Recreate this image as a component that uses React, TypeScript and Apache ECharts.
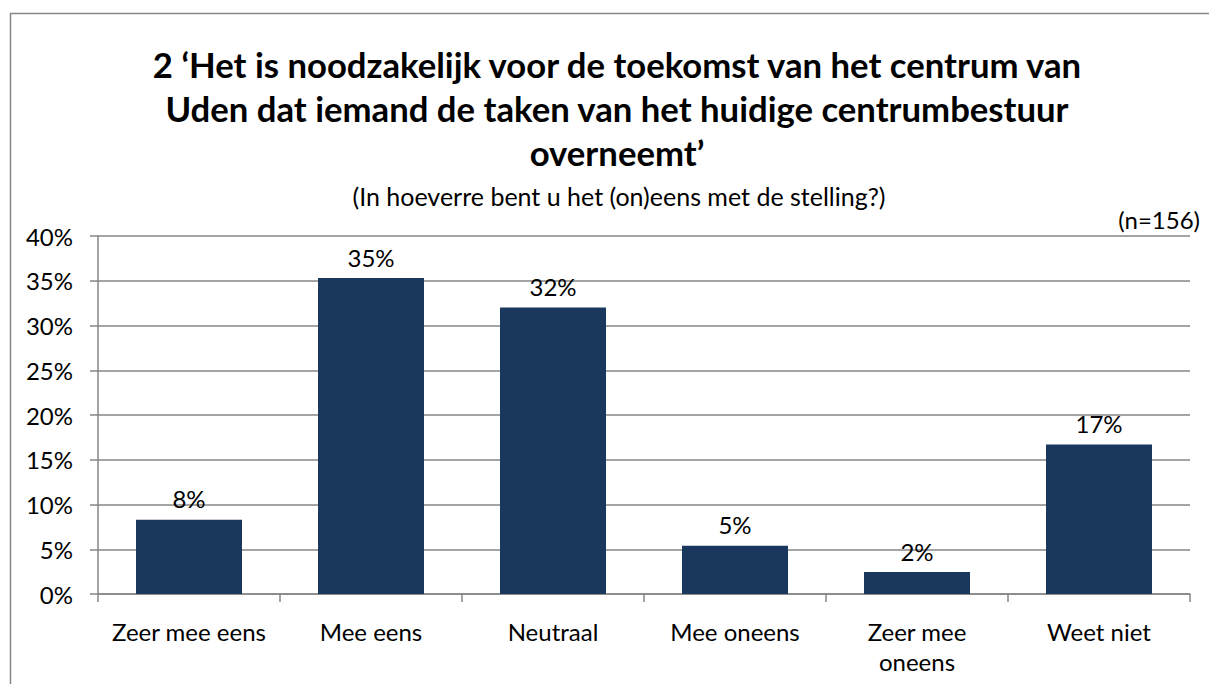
import React, { useEffect, useRef } from "react";
import * as echarts from "echarts";

const categories = ["Zeer mee eens", "Mee eens", "Neutraal", "Mee oneens", "Zeer mee oneens", "Weet niet"];
const values = [8.3, 35.3, 32.0, 5.4, 2.45, 16.7];
const yTicks = [0, 5, 10, 15, 20, 25, 30, 35, 40];
const titleText = "2 ‘Het is noodzakelijk voor de toekomst van het centrum van\nUden dat iemand de taken van het huidige centrumbestuur\noverneemt’";
const subtitleText = "(In hoeverre bent u het (on)eens met de stelling?)";
const nText = "(n=156)";

const FONT = "Lato, 'Open Sans', sans-serif";

export default function App() {
  const ref = useRef<HTMLDivElement>(null);
  useEffect(() => {
    if (!ref.current) return;
    const chart = echarts.init(ref.current, null, { renderer: "svg" });
    chart.setOption({
      animation: false,
      backgroundColor: "#ffffff",
      textStyle: { fontFamily: FONT },
      title: [
        {
          text: titleText,
          left: 612,
          textAlign: "center",
          top: 37,
          textStyle: { fontFamily: FONT, fontSize: 34.7, fontWeight: "bold", color: "#000", lineHeight: 44 },
        },
        {
          text: subtitleText,
          left: 614,
          textAlign: "center",
          top: 178,
          textStyle: { fontFamily: FONT, fontSize: 25, fontWeight: "normal", color: "#000" },
        },
        {
          text: nText,
          right: 4,
          top: 202,
          textStyle: { fontFamily: FONT, fontSize: 24, fontWeight: "normal", color: "#000" },
        },
      ],
      graphic: [
        {
          type: "rect",
          shape: { x: 10.5, y: 13.5, width: 1300, height: 800 },
          style: { fill: "none", stroke: "#868686", lineWidth: 1.5 },
          silent: true,
        },
      ],
      grid: { left: 98, right: 19, top: 236, bottom: 90, containLabel: false },
      xAxis: {
        type: "category",
        data: categories,
        axisLine: { show: true, lineStyle: { color: "#868686", width: 1.5 } },
        axisTick: { show: true, alignWithLabel: false, length: 8, lineStyle: { color: "#868686", width: 1.5 } },
        axisLabel: {
          interval: 0,
          margin: 22,
          fontFamily: FONT,
          fontSize: 24,
          color: "#000",
          lineHeight: 30,
          formatter: (v: string) => (v === "Zeer mee oneens" ? "Zeer mee\noneens" : v),
        },
      },
      yAxis: {
        type: "value",
        min: yTicks[0],
        max: yTicks[yTicks.length - 1],
        interval: 5,
        axisLine: { show: true, lineStyle: { color: "#868686", width: 1.5 } },
        axisTick: { show: true, length: 8, lineStyle: { color: "#868686", width: 1.5 } },
        splitLine: { show: true, lineStyle: { color: "#868686", width: 1.5 } },
        axisLabel: {
          margin: 25,
          fontFamily: FONT,
          fontSize: 24,
          color: "#000",
          formatter: (v: number) => `${v}%`,
        },
      },
      series: [
        {
          type: "bar",
          data: values,
          barWidth: 106,
          itemStyle: { color: "#1a375e" },
          label: {
            show: true,
            position: "top",
            distance: 9,
            fontFamily: FONT,
            fontSize: 24,
            color: "#000",
            formatter: (p: any) => `${Math.round(p.value)}%`,
          },
        },
      ],
    });
    return () => chart.dispose();
  }, []);
  return <div ref={ref} style={{ position: "fixed", left: 0, top: 0, width: 1209, height: 684 }} />;
}
